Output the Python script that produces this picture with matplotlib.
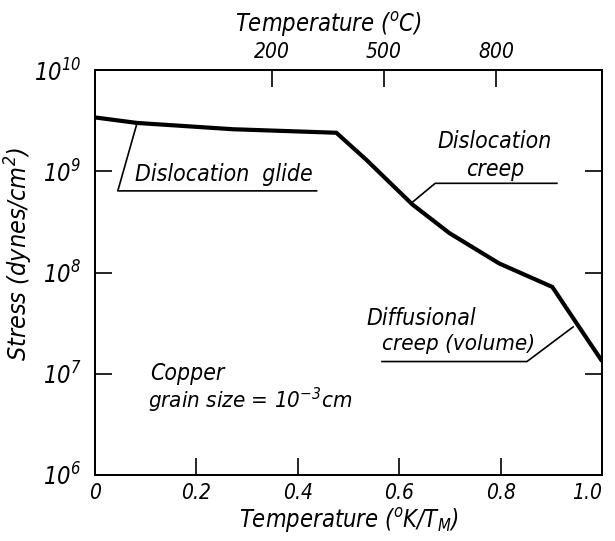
import matplotlib
matplotlib.use("Agg")
import matplotlib.pyplot as plt
import matplotlib.transforms as mtransforms
import numpy as np

# Data
t_norm = [0.0, 0.083, 0.272, 0.476, 0.535, 0.626, 0.699, 0.797, 0.902, 0.949, 0.998]
stress = [3.4e9, 3.0e9, 2.6e9, 2.4e9, 1.3e9, 4.7e8, 2.45e8, 1.23e8, 7.2e7, 3.2e7, 1.38e7]

x_ticks = [0.0, 0.2, 0.4, 0.6, 0.8, 1.0]
x_ticklabels = ["0", "0.2", "0.4", "0.6", "0.8", "1.0"]
y_ticks = [1e6, 1e7, 1e8, 1e9, 1e10]
y_ticklabels = [r"$10^{6}$", r"$10^{7}$", r"$10^{8}$", r"$10^{9}$", r"$10^{10}$"]
top_celsius = [200, 500, 800]
T_melt = 1356.0

plt.rcParams["font.family"] = ["DejaVu Sans"]
plt.rcParams["font.style"] = "italic"
plt.rcParams["font.stretch"] = "condensed"
plt.rcParams["mathtext.fontset"] = "custom"
plt.rcParams["mathtext.rm"] = "DejaVu Sans:italic"
plt.rcParams["mathtext.it"] = "DejaVu Sans:italic"
plt.rcParams["mathtext.default"] = "rm"

fig = plt.figure(figsize=(6.15, 5.41), dpi=100)
ax = fig.add_axes([95/615, 66/541, 507/615, 405/541])

ax.plot(t_norm, stress, color="black", lw=3.0, solid_joinstyle="miter")
ax.set_yscale("log")
ax.set_xlim(0, 1.0)
ax.set_ylim(1e6, 1e10)

for s in ax.spines.values():
    s.set_linewidth(1.4)

ax.set_xticks(x_ticks)
ax.set_xticklabels(x_ticklabels, fontsize=15)
last = ax.get_xticklabels()[-1]
last.set_horizontalalignment("right")
last.set_transform(last.get_transform() +
                   mtransforms.ScaledTranslation(8/100, 0, fig.dpi_scale_trans))
ax.set_yticks(y_ticks)
ax.set_yticklabels(y_ticklabels, fontsize=17)
ax.yaxis.set_minor_locator(matplotlib.ticker.NullLocator())
ax.tick_params(axis="x", direction="in", length=12, width=1.2, pad=6, top=False)
ax.tick_params(axis="y", direction="in", length=12, width=1.2, pad=10, right=True)

ax.set_xlabel(r"Temperature ($^{o}$K/T$_{M}$)", fontsize=17, labelpad=2)
ax.set_ylabel(r"Stress (dynes/cm$^{2}$)", fontsize=18)
ax.yaxis.set_label_coords(-0.118, 0.545)

top = ax.twiny()
top.set_xlim(0, 1.0)
top.set_xticks([(c + 273) / T_melt for c in top_celsius])
top.set_xticklabels([str(c) for c in top_celsius], fontsize=15)
top.tick_params(axis="x", direction="in", length=12, width=1.2, pad=6)
top.set_xlabel(r"Temperature ($^{o}$C)", fontsize=17, labelpad=8)
top.xaxis.set_label_coords(0.46, 1.095)
for s in top.spines.values():
    s.set_linewidth(1.4)

# annotations with leader lines
lw = 1.2
ax.plot([0.083, 0.045, 0.437], [3.0e9, 6.4e8, 6.4e8], color="black", lw=lw)
ax.text(0.079, 8.1e8, "Dislocation  glide", fontsize=16.5, va="baseline", ha="left")

ax.plot([0.625, 0.671, 0.911], [4.9e8, 7.6e8, 7.6e8], color="black", lw=lw)
ax.text(0.789, 1.7e9, "Dislocation", fontsize=16.5, va="baseline", ha="center")
ax.text(0.789, 8.9e8, "creep", fontsize=16.5, va="baseline", ha="center")

ax.plot([0.943, 0.852, 0.566], [2.9e7, 1.32e7, 1.32e7], color="black", lw=lw)
ax.text(0.536, 3.0e7, "Diffusional", fontsize=16.5, va="baseline", ha="left")
ax.text(0.566, 1.7e7, "creep (volume)", fontsize=16, va="baseline", ha="left")

ax.text(0.108, 8.7e6, "Copper", fontsize=16.5, va="baseline", ha="left")
ax.text(0.104, 4.6e6, r"grain size = 10$^{-3}$cm", fontsize=16, va="baseline", ha="left")

fig.savefig("out.png", dpi=100)
